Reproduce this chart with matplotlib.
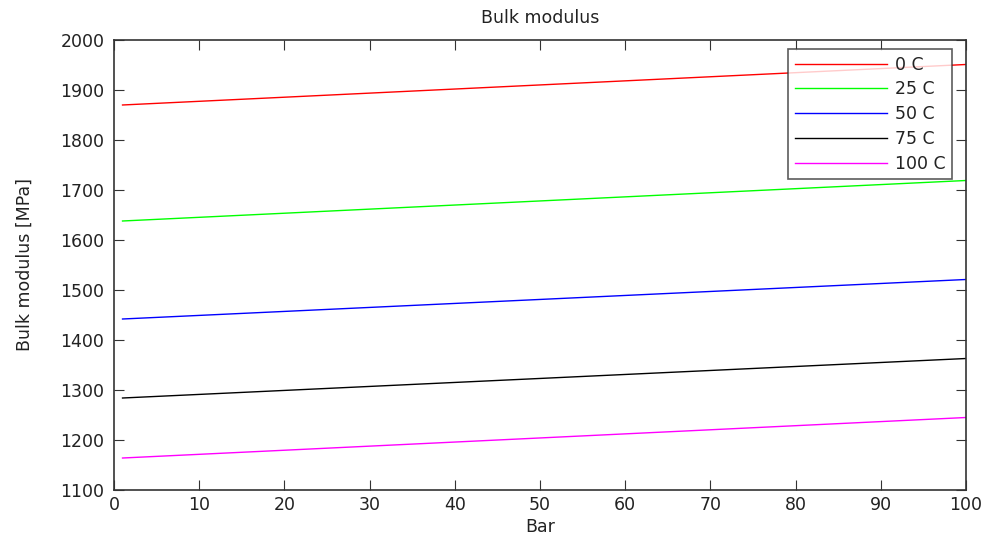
import matplotlib
matplotlib.use("Agg")
import matplotlib.pyplot as plt

# pressure range in bar (line endpoints)
bar = [1, 100]

labels = ["0 C", "25 C", "50 C", "75 C", "100 C"]
colors = ["#ff0000", "#00ff00", "#0000ff", "#000000", "#ff00ff"]

# bulk modulus at 1 bar and 100 bar, MPa
k_0 = [1870, 1951]
k_25 = [1638, 1719]
k_50 = [1442, 1521]
k_75 = [1284, 1363]
k_100 = [1164, 1245]

series = [k_0, k_25, k_50, k_75, k_100]

plt.rcParams["font.family"] = ["DejaVu Sans"]

fig = plt.figure(figsize=(9.88, 5.36), dpi=100)
ax = fig.add_axes([0.1154, 0.0858, 0.8623, 0.8396])

for vals, lab, col in zip(series, labels, colors):
    ax.plot(bar, vals, color=col, linewidth=1, label=lab)

ax.set_xlim(0, 100)
ax.set_ylim(1100, 2000)
ax.set_xticks(range(0, 101, 10))
ax.set_yticks(range(1100, 2001, 100))
ax.tick_params(direction="in", top=True, right=True, labelsize=12.5, length=7,
               color="#333333", labelcolor="#222222")
ax.tick_params(axis="y", pad=7)
ax.tick_params(axis="x", pad=4)
for s in ax.spines.values():
    s.set_linewidth(1.2)
    s.set_color("#333333")

ax.set_title("Bulk modulus", fontsize=12.5, pad=12, color="#222222")
ax.set_xlabel("Bar", fontsize=12.5, labelpad=3, color="#222222")
ax.set_ylabel("Bulk modulus [MPa]", fontsize=12.5, labelpad=19, color="#222222")

leg = ax.legend(loc="upper right", fontsize=12.5, frameon=True, fancybox=False,
                handlelength=5.3, handletextpad=0.45, borderaxespad=0.0,
                labelspacing=0.39, borderpad=0.38,
                bbox_to_anchor=(0.9836, 0.98))
leg.get_frame().set_edgecolor("#333333")
leg.get_frame().set_linewidth(1.2)
for t in leg.get_texts():
    t.set_color("#222222")

fig.savefig("out.png", dpi=100)
